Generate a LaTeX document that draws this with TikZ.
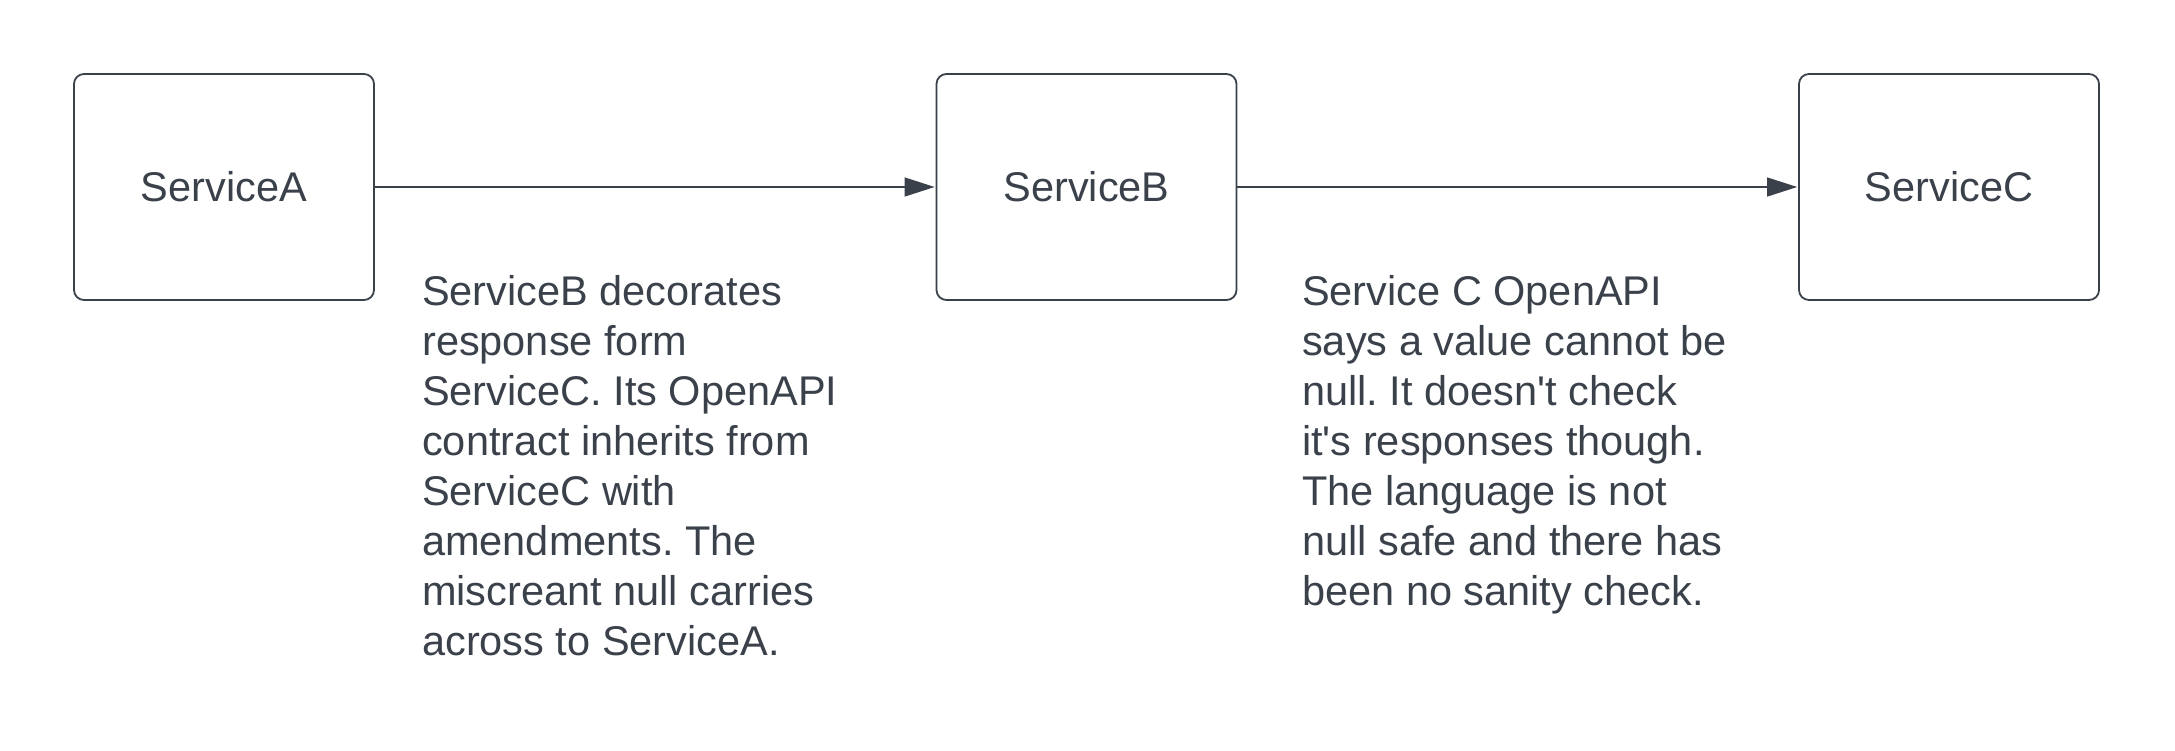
\documentclass[tikz,border=0pt]{standalone}
\usepackage{fontspec}
\setmainfont{Liberation Sans}
\usetikzlibrary{arrows.meta}
\definecolor{ink}{RGB}{58,65,74}
\frenchspacing
\begin{document}
\begin{tikzpicture}[x=1pt,y=-1pt,
  svc/.style={draw=ink, line width=1.8pt, rounded corners=10pt, minimum width=300pt, minimum height=226pt, inner sep=0pt, text=ink, font=\fontsize{41.5}{50}\selectfont},
  note/.style={anchor=base west, align=left, inner sep=0pt, text=ink, font=\fontsize{41.5}{50}\selectfont},
  flow/.style={draw=ink, line width=1.3pt, -{Triangle[length=30pt,width=19pt]}, shorten >=1pt}]
\useasboundingbox (0,0) rectangle (2175,750);
\node[svc] (A) at (224,187) {ServiceA};
\node[svc] (B) at (1086.5,187) {ServiceB};
\node[svc] (C) at (1949,187) {ServiceC};
\draw[flow] (A) -- (B);
\draw[flow] (B) -- (C);
\node[note] (n1) at (422,655) {ServiceB decorates\\response form\\ServiceC. Its OpenAPI\\contract inherits from\\ServiceC with\\amendments. The\\miscreant null carries\\across to ServiceA.};
\node[note] (n2) at (1302,605) {Service C OpenAPI\\says a value cannot be\\null. It doesn\textquotesingle t check\\it\textquotesingle s responses though.\\The language is not\\null safe and there has\\been no sanity check.};
\end{tikzpicture}
\end{document}
